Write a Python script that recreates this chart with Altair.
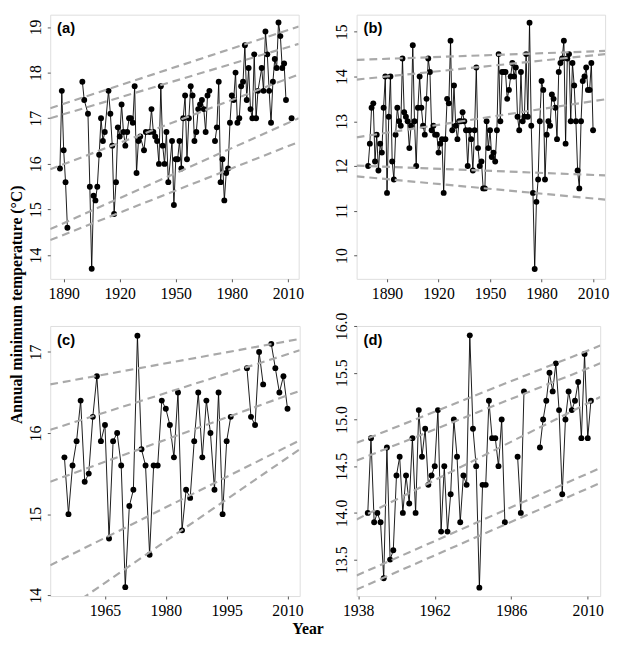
import altair as alt
import pandas as pd

# ---------------- data ----------------
# (a)
years_a = [1888, 1889, 1890, 1891, 1892,
           1900, 1901, 1903, 1904, 1905, 1906, 1907, 1908, 1909, 1910, 1911, 1912,
           1914, 1915, 1916, 1917, 1918, 1919, 1920, 1921, 1922, 1923, 1924, 1925,
           1926, 1927, 1928, 1929, 1930, 1931, 1933, 1934, 1936, 1937, 1938, 1939,
           1940, 1941, 1942, 1943, 1944, 1945, 1946, 1948, 1949, 1950, 1951, 1952,
           1953, 1954, 1955, 1956, 1957, 1958, 1959, 1960, 1961, 1962, 1963, 1964,
           1965, 1966, 1967, 1968] + list(range(1971, 1995)) + list(range(1996, 2010)) + [2012]
temps_a = [15.9, 17.6, 16.3, 15.6, 14.6,
           17.8, 17.4, 17.1, 15.5, 13.7, 15.3, 15.2, 15.5, 16.2, 17.0, 16.5, 16.7,
           17.6, 17.1, 16.4, 14.9, 15.6, 16.8, 16.6, 17.3, 16.7, 16.4, 16.7, 17.0,
           17.0, 16.9, 17.7, 15.8, 16.5, 16.6, 16.3, 16.7, 16.7, 17.2, 16.7, 16.6,
           16.5, 16.0, 17.7, 16.4, 16.0, 16.7, 15.6, 16.5, 15.1, 16.1, 16.1, 16.5,
           15.9, 17.0, 17.5, 16.1, 17.0, 17.7, 17.5, 16.5, 16.7, 17.2, 17.3, 17.4,
           17.2, 16.7, 17.5, 17.6,
           16.5, 16.8, 17.8, 15.6, 16.1, 15.2, 15.8, 15.9, 16.9, 17.5, 17.4, 18.0,
           16.9, 17.0, 17.7, 17.8, 18.6, 17.4, 18.1, 17.2, 17.0, 18.4, 17.0, 17.6,
           18.1, 17.6, 18.9, 18.4, 17.6, 16.9, 17.8, 18.3, 18.1, 19.1, 18.8, 18.1,
           18.2, 17.4,
           17.0]
qlo_a = [17.22, 17.0, 15.88, 14.57, 14.33]
qhi_a = [19.01, 18.63, 17.96, 17.0, 16.48]

# (b)
years_b = list(range(1879, 2011))
temps_b = [12.0, 12.5, 13.3, 13.4, 12.1, 12.7, 11.9, 12.5, 12.3, 13.3, 14.0,
           11.4, 13.1, 14.0, 12.1, 11.7, 12.7, 13.3, 13.0, 12.9, 14.4,
           13.2, 13.1, 13.0, 12.4, 12.9, 14.7, 13.0, 12.0, 13.3, 14.0,
           13.3, 12.9, 12.7, 13.5, 14.4, 14.1, 12.8, 12.9, 12.7, 12.7,
           12.3, 12.5, 12.6, 11.4, 12.6, 13.5, 13.4, 14.8, 12.8, 13.8,
           12.9, 12.6, 13.0, 13.0, 13.2, 13.0, 12.8,
           12.0, 12.8, 12.6, 11.9, 12.8, 14.2, 12.4, 12.0, 12.1, 11.5,
           11.5, 13.0, 12.4, 12.8, 12.2, 12.3, 12.1, 12.8, 14.5, 13.0,
           14.1, 14.1, 14.1, 13.5, 13.7, 14.0, 14.3, 14.0, 14.2, 13.1,
           12.8, 14.1, 13.0, 13.1, 14.5, 13.1, 15.2, 12.9, 11.4, 9.7,
           11.2, 11.7, 13.0, 13.9, 13.7, 11.7, 12.7, 13.0, 12.9, 13.6,
           13.5, 13.3, 12.6, 14.1, 14.3, 14.4, 14.8, 12.5, 14.4,
           14.5, 13.0, 14.3, 13.8, 13.0, 11.9, 11.5, 13.0, 13.9,
           14.0, 14.2, 13.7, 13.7, 14.3, 12.8]
qlo_b = [14.37, 13.93, 12.64, 12.01, 11.77]
qhi_b = [14.57, 14.5, 13.49, 11.79, 11.25]

# (c)
years_c = list(range(1955, 1997)) + list(range(2000, 2005)) + list(range(2006, 2011))
temps_c = [15.7, 15.0, 15.6, 15.9, 16.4, 15.4, 15.5, 16.2, 16.7, 15.9,
           16.1, 14.7, 15.9, 16.0, 15.6, 14.1, 15.1, 15.3, 17.2, 15.8,
           15.6, 14.5, 15.6, 15.6, 16.4, 16.3, 16.1, 15.7, 16.5, 14.8,
           15.3, 15.2, 15.9, 16.5, 15.7, 16.4, 16.0, 15.3, 16.5, 15.0,
           15.9, 16.2,
           16.8, 16.2, 16.1, 17.0, 16.6,
           17.1, 16.8, 16.5, 16.7, 16.3]
qlo_c = [16.6, 16.04, 15.4, 14.37, 13.69]
qhi_c = [17.16, 17.02, 16.52, 15.91, 15.80]

# (d)
years_d = list(range(1941, 1985)) + list(range(1988, 1991)) + list(range(1995, 2012))
temps_d = [14.0, 14.8, 13.9, 14.0, 13.9, 13.3, 14.7, 13.5, 13.6, 14.4,
           14.6, 14.0, 14.4, 14.1, 14.8, 14.0, 15.1, 14.6, 14.9, 14.3,
           14.4, 14.5, 15.1, 13.8, 14.5, 13.8, 14.2, 15.0, 14.6, 13.9,
           14.4, 14.3, 15.9, 14.9, 14.5, 13.2, 14.3, 14.3, 15.2, 14.8,
           14.8, 14.5, 15.0, 13.9,
           14.6, 14.0, 15.3,
           14.7, 15.0, 15.2, 15.5, 15.3, 15.6, 15.1, 14.2, 15.0, 15.3,
           15.1, 15.2, 15.4, 14.8, 15.7, 14.8, 15.2]
qlo_d = [14.75, 14.56, 13.93, 13.33, 13.18]
qhi_d = [15.79, 15.60, 15.24, 14.48, 14.32]

ticks_x_a = [1890, 1920, 1950, 1980, 2010]
ticks_x_b = [1890, 1920, 1950, 1980, 2010]
ticks_x_c = [1965, 1980, 1995, 2010]
ticks_x_d = [1938, 1962, 1986, 2010]
ticks_y_a = [14, 15, 16, 17, 18, 19]
ticks_y_b = [10, 11, 12, 13, 14, 15]
ticks_y_c = [14, 15, 16, 17]
ticks_y_d = [13.5, 14.0, 14.5, 15.0, 15.5, 16.0]

SERIF = "Liberation Serif"
SANS = "Liberation Sans"


def segments(years, max_gap):
    seg, out, prev = 0, [], None
    for yr in years:
        if prev is not None and yr - prev > max_gap:
            seg += 1
        out.append(seg)
        prev = yr
    return out


def panel(years, temps, gap, qlo, qhi, xdom, ydom, xticks, yticks, yfmt, label,
          w, h, ytitle=None, xtitle=None):
    df = pd.DataFrame({"year": years, "temp": temps, "seg": segments(years, gap)})
    qdf = pd.DataFrame({"year": [xdom[0]] * 5 + [xdom[1]] * 5,
                        "temp": qlo + qhi,
                        "q": list(range(5)) * 2})
    xaxis_kw = dict(values=xticks, format="d", labelFlush=False, labelOverlap=False,
                    tickSize=3, labelPadding=4, domain=False, grid=False,
                    tickColor="#555", labelFont=SERIF, labelFontSize=16,
                    labelColor="black")
    if xtitle:
        xaxis_kw.update(title=xtitle, titleX=262, titleY=33, titleFont=SERIF,
                        titleFontSize=16, titleFontWeight="bold", titleColor="black",
                        titleBaseline="middle", titleAlign="center")
    else:
        xaxis_kw.update(title=None)
    yaxis_kw = dict(values=yticks, format=yfmt, labelAngle=270, labelOverlap=False,
                    tickSize=3, labelPadding=4, domain=False, grid=False,
                    tickColor="#555", labelFont=SERIF, labelFontSize=16,
                    labelColor="black")
    if ytitle:
        yaxis_kw.update(title=ytitle, titleX=-34, titleY=295, titleAngle=270,
                        titleFont=SERIF, titleFontSize=16, titleFontWeight="bold",
                        titleColor="black", titleBaseline="middle", titleAlign="center")
    else:
        yaxis_kw.update(title=None)

    x = alt.X("year:Q", scale=alt.Scale(domain=xdom, nice=False, zero=False),
              axis=alt.Axis(**xaxis_kw))
    y = alt.Y("temp:Q", scale=alt.Scale(domain=ydom, nice=False, zero=False),
              axis=alt.Axis(**yaxis_kw))

    line = alt.Chart(df).mark_line(color="black", strokeWidth=0.9).encode(
        x=x, y=y, detail="seg:N")
    pts = alt.Chart(df).mark_circle(color="black", size=36, opacity=1).encode(
        x="year:Q", y="temp:Q")
    qlines = alt.Chart(qdf).mark_line(color="#a9a9a9", strokeWidth=2.2,
                                      strokeDash=[8, 5], clip=True).encode(
        x="year:Q", y="temp:Q", detail="q:N")
    lab = alt.Chart(pd.DataFrame({"t": [label]})).mark_text(
        font=SANS, fontSize=15, fontWeight="bold", align="left",
        baseline="middle", color="black").encode(
        text="t:N", x=alt.value(7), y=alt.value(14))
    return alt.layer(line, pts, qlines, lab).properties(width=w, height=h)


pa = panel(years_a, temps_a, 2, qlo_a, qhi_a, [1882.8, 2015.8], [13.48, 19.27],
           ticks_x_a, ticks_y_a, "d", "(a)", 253, 269,
           ytitle="Annual minimum temperature (°C)")
pb = panel(years_b, temps_b, 1, qlo_b, qhi_b, [1872.3, 2017.0], [9.48, 15.38],
           ticks_x_b, ticks_y_b, "d", "(b)", 253, 269)
pc = panel(years_c, temps_c, 1, qlo_c, qhi_c, [1951.5, 2013.0], [13.99, 17.32],
           ticks_x_c, ticks_y_c, "d", "(c)", 254, 275, xtitle="Year")
pd_ = panel(years_d, temps_d, 1, qlo_d, qhi_d, [1937.5, 2013.9], [13.11, 16.0],
            ticks_x_d, ticks_y_d, ".1f", "(d)", 248, 275)

chart = alt.concat(pa, pb, pc, pd_, columns=2, bounds="flush",
                   spacing={"row": 48, "column": 58}).properties(
    padding=0
).configure_view(
    stroke="#555", strokeWidth=1
).configure(background="white")

chart.save("out.html", embed_options={"renderer": "svg", "actions": False})
